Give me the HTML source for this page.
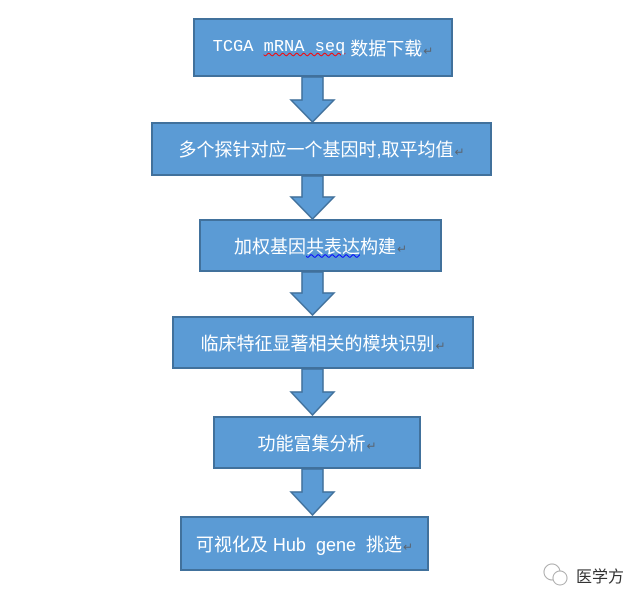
<!DOCTYPE html>
<html><head><meta charset="utf-8"><style>
body{margin:0;width:644px;height:601px;background:#fff;position:relative;overflow:hidden;font-family:"Liberation Sans","Noto Sans CJK SC",sans-serif}
.b{position:absolute;box-sizing:border-box;background:#5b9bd5;border:2px solid #41719c;color:#fff;font-size:18px;display:flex;align-items:center;justify-content:center;white-space:pre}
.r{color:#5a6470;font-size:12px;margin-left:1px;margin-top:6px}
.mono{font-family:"Liberation Mono",monospace;font-size:17px}
</style></head><body>
<div class="b" style="left:193px;top:18px;width:260px;height:59px"><span class="mono">TCGA </span><span class="mono" style="text-decoration:underline wavy red;text-decoration-thickness:1px">mRNA seq</span><span> 数据下载</span><span class="r">↵</span></div>
<div class="b" style="left:151px;top:122px;width:341px;height:54px">多个探针对应一个基因时,取平均值<span class="r">↵</span></div>
<div class="b" style="left:199px;top:219px;width:243px;height:53px">加权基因<span style="text-decoration:underline wavy blue;text-decoration-thickness:1px">共表达</span>构建<span class="r">↵</span></div>
<div class="b" style="left:172px;top:316px;width:302px;height:53px">临床特征显著相关的模块识别<span class="r">↵</span></div>
<div class="b" style="left:213px;top:416px;width:208px;height:53px">功能富集分析<span class="r">↵</span></div>
<div class="b" style="left:180px;top:516px;width:249px;height:55px">可视化及 Hub  gene  挑选<span class="r">↵</span></div>
<svg width="644" height="601" style="position:absolute;left:0;top:0">
<g fill="#5b9bd5" stroke="#41719c" stroke-width="1.5">
<polygon points="302,77 323,77 323,100 334,100 312.5,122 291,100 302,100"/>
<polygon points="302,176 323,176 323,197 334,197 312.5,219 291,197 302,197"/>
<polygon points="302,272 323,272 323,293 334,293 312.5,315 291,293 302,293"/>
<polygon points="302,369 323,369 323,392 334,392 312.5,415 291,392 302,392"/>
<polygon points="302,469 323,469 323,492 334,492 312.5,515 291,492 302,492"/>
</g>
<circle cx="552" cy="572" r="8" fill="none" stroke="#aaa"/>
<circle cx="560" cy="578" r="7" fill="#fff" stroke="#aaa"/>
</svg>
<div style="position:absolute;left:576px;top:563px;font-size:16px;color:#333">医学方</div>
</body></html>
